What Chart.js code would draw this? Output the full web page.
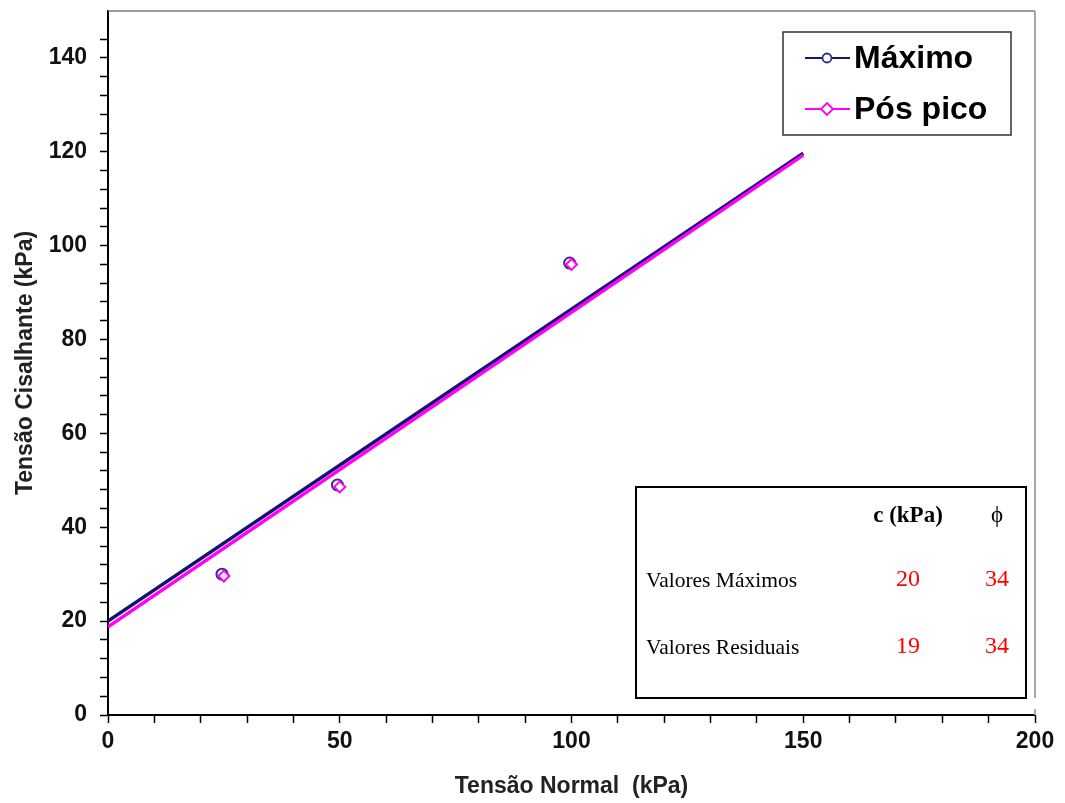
<!DOCTYPE html>
<html><head><meta charset="utf-8">
<script src="https://cdn.jsdelivr.net/npm/chart.js@4"></script>
<style>html,body{margin:0;padding:0;background:#fff}canvas{display:block}</style>
</head><body>
<canvas id="c" width="1065" height="803"></canvas>
<script>
const seriesNames = ['Máximo', 'Pós pico'];
const maxNormal = [24.6, 49.5, 99.6];
const maxShear = [30.0, 49.0, 96.3];
const resNormal = [25, 50, 100];
const resShear = [29.6, 48.6, 96.0];
const envelopeX = [0, 150];
const maxEnvelopeY = [20, 119.7];
const resEnvelopeY = [18.8, 119.3];
const xTickLabels = [0, 50, 100, 150, 200];
const yTickLabels = [0, 20, 40, 60, 80, 100, 120, 140];
const tableHeader = ['c (kPa)', 'ϕ'];
const tableRows = ['Valores Máximos', 'Valores Residuais'];
const cValues = [20, 19];
const phiValues = [34, 34];

const NAVY = '#14146e';
const NAVY_MK = '#2e2e8a';
const PINK = '#ff00ff';
const SANS = '"Liberation Sans", Arial, sans-serif';
const SERIF = '"Liberation Serif", "Times New Roman", serif';

const toPts = (xs, ys) => xs.map((x, i) => ({x, y: ys[i]}));

const extras = {
  id: 'extras',
  beforeDatasetsDraw(chart) {
    const {ctx, chartArea: a} = chart;
    ctx.save();
    ctx.strokeStyle = '#7a7a7a'; ctx.lineWidth = 1.5;
    ctx.beginPath(); ctx.moveTo(a.left, a.top); ctx.lineTo(a.right, a.top); ctx.stroke();
    ctx.strokeStyle = '#a8a8a8'; ctx.lineWidth = 2;
    ctx.beginPath(); ctx.moveTo(a.right, a.top); ctx.lineTo(a.right, a.bottom); ctx.stroke();
    ctx.restore();
  },
  afterDraw(chart) {
    const {ctx} = chart;
    ctx.save();
    // Legend
    const lx = 783, ly = 32, lw = 228, lh = 103;
    ctx.fillStyle = '#fff'; ctx.fillRect(lx, ly, lw, lh);
    ctx.strokeStyle = '#333'; ctx.lineWidth = 1.5; ctx.strokeRect(lx, ly, lw, lh);
    const rowsY = [58, 109];
    const colors = [NAVY, PINK];
    const mkColors = [NAVY_MK, PINK];
    seriesNames.forEach((name, i) => {
      const y = rowsY[i];
      ctx.strokeStyle = colors[i]; ctx.lineWidth = 2;
      ctx.beginPath(); ctx.moveTo(805, y); ctx.lineTo(850, y); ctx.stroke();
      ctx.fillStyle = '#fff'; ctx.strokeStyle = mkColors[i]; ctx.lineWidth = 1.8;
      ctx.beginPath();
      if (i === 0) { ctx.arc(827, y, 4.5, 0, Math.PI * 2); }
      else { ctx.moveTo(827, y - 6); ctx.lineTo(833, y); ctx.lineTo(827, y + 6); ctx.lineTo(821, y); ctx.closePath(); }
      ctx.fill(); ctx.stroke();
      ctx.fillStyle = '#000'; ctx.font = 'bold 32px ' + SANS;
      ctx.textAlign = 'left'; ctx.textBaseline = 'middle';
      ctx.fillText(name, 854, y + 1);
    });
    // Table
    const tx = 636, ty = 487, tw = 390, th = 211;
    ctx.fillStyle = '#fff'; ctx.fillRect(tx, ty, tw, th);
    ctx.fillRect(tx, ty + th, tw + 12, 11);
    ctx.strokeStyle = '#000'; ctx.lineWidth = 2; ctx.strokeRect(tx, ty, tw, th);
    const colX = [908, 997];
    ctx.textBaseline = 'middle'; ctx.textAlign = 'center'; ctx.fillStyle = '#000';
    ctx.font = 'bold 23px ' + SERIF; ctx.fillText(tableHeader[0], colX[0], 516);
    ctx.font = '23px ' + SERIF; ctx.fillText(tableHeader[1], colX[1], 516);
    const rY = [581, 648];
    tableRows.forEach((lab, i) => {
      ctx.textAlign = 'left'; ctx.fillStyle = '#000'; ctx.font = '21.5px ' + SERIF;
      ctx.fillText(lab, 646, rY[i]);
      ctx.textAlign = 'center'; ctx.fillStyle = '#ff0000'; ctx.font = '24px ' + SERIF;
      ctx.fillText(String(cValues[i]), colX[0], rY[i] - 1);
      ctx.fillText(String(phiValues[i]), colX[1], rY[i] - 1);
    });
    ctx.restore();
  }
};

new Chart(document.getElementById('c'), {
  type: 'scatter',
  data: {
    datasets: [
      { label: seriesNames[0], type: 'line', order: 4, data: toPts(envelopeX, maxEnvelopeY), borderColor: NAVY, borderWidth: 3.5, pointRadius: 0, fill: false },
      { label: seriesNames[1], type: 'line', order: 3, data: toPts(envelopeX, resEnvelopeY), borderColor: PINK, borderWidth: 3.5, pointRadius: 0, fill: false },
      { label: seriesNames[0], order: 2, data: toPts(maxNormal, maxShear), pointStyle: 'circle', pointRadius: 5.5, borderColor: NAVY_MK, backgroundColor: '#fff', borderWidth: 2, showLine: false },
      { label: seriesNames[1], order: 1, data: toPts(resNormal, resShear), pointStyle: 'rectRot', pointRadius: 5.5, borderColor: PINK, backgroundColor: '#fff', borderWidth: 2, showLine: false }
    ]
  },
  options: {
    responsive: false,
    devicePixelRatio: 1,
    animation: false,
    layout: { padding: { left: 0, top: 11, right: 30, bottom: 0 } },
    plugins: { legend: { display: false }, tooltip: { enabled: false } },
    scales: {
      x: {
        type: 'linear', min: 0, max: 200,
        afterFit: s => { s.height = 88; },
        border: { display: true, color: '#000', width: 2 },
        grid: { drawOnChartArea: false, drawTicks: true, tickLength: 8, tickColor: '#000', tickWidth: 1.5 },
        ticks: {
          stepSize: 10, autoSkip: false, maxRotation: 0, padding: 5, color: '#111',
          font: { family: SANS, size: 23, weight: 'bold' },
          callback: v => xTickLabels.includes(v) ? String(v) : ''
        },
        title: { display: true, text: 'Tensão Normal  (kPa)', color: '#222', font: { family: SANS, size: 23, weight: 'bold' }, padding: { top: 0, bottom: 3 } }
      },
      y: {
        type: 'linear', min: 0, max: 150,
        afterFit: s => { s.width = 108; s.paddingTop = 0; s.paddingBottom = 0; },
        border: { display: true, color: '#000', width: 2 },
        grid: { drawOnChartArea: false, drawTicks: true, tickLength: 8, tickWidth: 1.5,
          tickColor: c => (c.tick && c.tick.value === 150) ? 'rgba(0,0,0,0)' : '#000' },
        ticks: {
          stepSize: 4, autoSkip: false, padding: 13, color: '#111',
          font: { family: SANS, size: 23, weight: 'bold' },
          callback: v => yTickLabels.includes(v) ? String(v) : ''
        },
        title: { display: true, text: 'Tensão Cisalhante (kPa)', color: '#222', font: { family: SANS, size: 23, weight: 'bold' }, padding: { top: 12, bottom: 0 } }
      }
    }
  },
  plugins: [extras]
});
</script>
</body></html>
